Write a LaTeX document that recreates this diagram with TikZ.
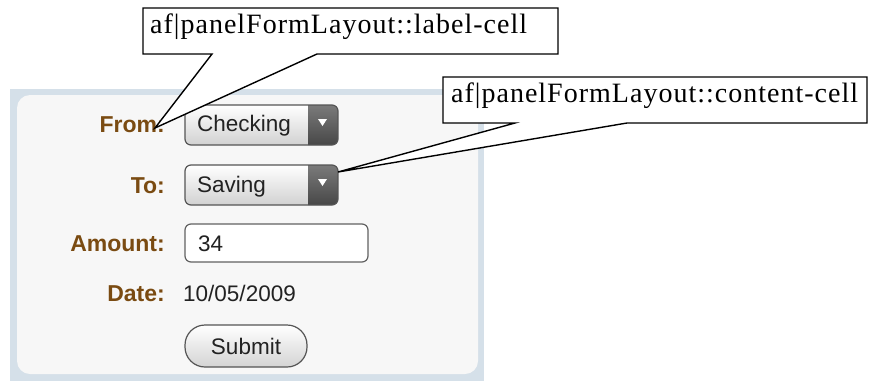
\documentclass[tikz,border=0pt]{standalone}
\usepackage{fontspec}
\setmainfont{Liberation Serif}
\newfontfamily\uifont{Liberation Sans}
\newfontfamily\callfont[LetterSpace=3.6]{Liberation Serif}
\definecolor{panelblue}{HTML}{D5E0E9}
\definecolor{panelin}{HTML}{F7F7F7}
\definecolor{lblbrown}{HTML}{7A4B12}
\definecolor{uitext}{HTML}{222222}
\definecolor{uiborder}{HTML}{555555}
\begin{document}
\begin{tikzpicture}[x=1pt,y=-1pt,
  lbl/.style={inner sep=0pt, anchor=base east, text=lblbrown, font=\uifont\bfseries\fontsize{23}{25}\selectfont},
  val/.style={inner sep=0pt, anchor=base west, text=uitext, font=\uifont\fontsize{22.5}{24}\selectfont},
  calltext/.style={inner sep=0pt, anchor=base west, font=\callfont\fontsize{28}{30}\selectfont},
  callline/.style={draw=black, fill=white, line width=1.4pt, line join=miter},
  fieldbox/.style={draw=uiborder, line width=1.2pt, rounded corners=6pt}]
\useasboundingbox (0,0) rectangle (870,381);
% panel
\fill[panelblue] (10,89) rectangle (484,381);
\fill[panelin, rounded corners=13pt] (17,95) rectangle (478,374);
% labels
\node[lbl] (lfrom) at (165,132) {From:};
\node[lbl] (lto) at (165,193) {To:};
\node[lbl] (lamount) at (165,251) {Amount:};
\node[lbl] (ldate) at (165,301) {Date:};
% dropdown Checking
\begin{scope}
  \clip[rounded corners=6pt] (185,105) rectangle (338,145);
  \shade[top color=white, bottom color=black!18] (185,105) rectangle (338,145);
  \shade[top color=black!52, bottom color=black!72] (308,105) rectangle (338,145);
\end{scope}
\draw[fieldbox] (185,105) rectangle (338,145);
\fill[white] (318,119) -- (327,119) -- (322.5,126) -- cycle;
\node[val] (vfrom) at (197,131) {Checking};
% dropdown Saving
\begin{scope}
  \clip[rounded corners=6pt] (185,165) rectangle (338,205);
  \shade[top color=white, bottom color=black!18] (185,165) rectangle (338,205);
  \shade[top color=black!52, bottom color=black!72] (308,165) rectangle (338,205);
\end{scope}
\draw[fieldbox] (185,165) rectangle (338,205);
\fill[white] (318,179) -- (327,179) -- (322.5,186) -- cycle;
\node[val] (vto) at (197,192) {Saving};
% amount field
\draw[fieldbox, fill=white, draw=black!62] (185,224) rectangle (368,262);
\node[val] (vamount) at (198,251) {34};
% date
\node[val] (vdate) at (183,301) {10/05/2009};
% submit
\shade[top color=white, bottom color=black!17, rounded corners=20pt] (185,325) rectangle (307,367);
\draw[draw=uiborder, line width=1.2pt, rounded corners=20pt] (185,325) rectangle (307,367);
\node[inner sep=0pt, anchor=base, text=uitext, font=\uifont\fontsize{22.5}{24}\selectfont] (vsubmit) at (246,354) {Submit};
% callout 1
\coordinate (tip1) at (155,128);
\path[callline] (143,8) -- (558,8) -- (558,54) -- (317,54) -- (tip1) -- (212,54) -- (143,54) -- cycle;
\node[calltext] (c1) at (150,33) {af|panelFormLayout::label-cell};
% callout 2
\coordinate (tip2) at (338,172);
\path[callline] (443,77) -- (867,77) -- (867,123) -- (627,123) -- (tip2) -- (515,123) -- (443,123) -- cycle;
\node[calltext] (c2) at (451,102) {af|panelFormLayout::content-cell};
\end{tikzpicture}
\end{document}
